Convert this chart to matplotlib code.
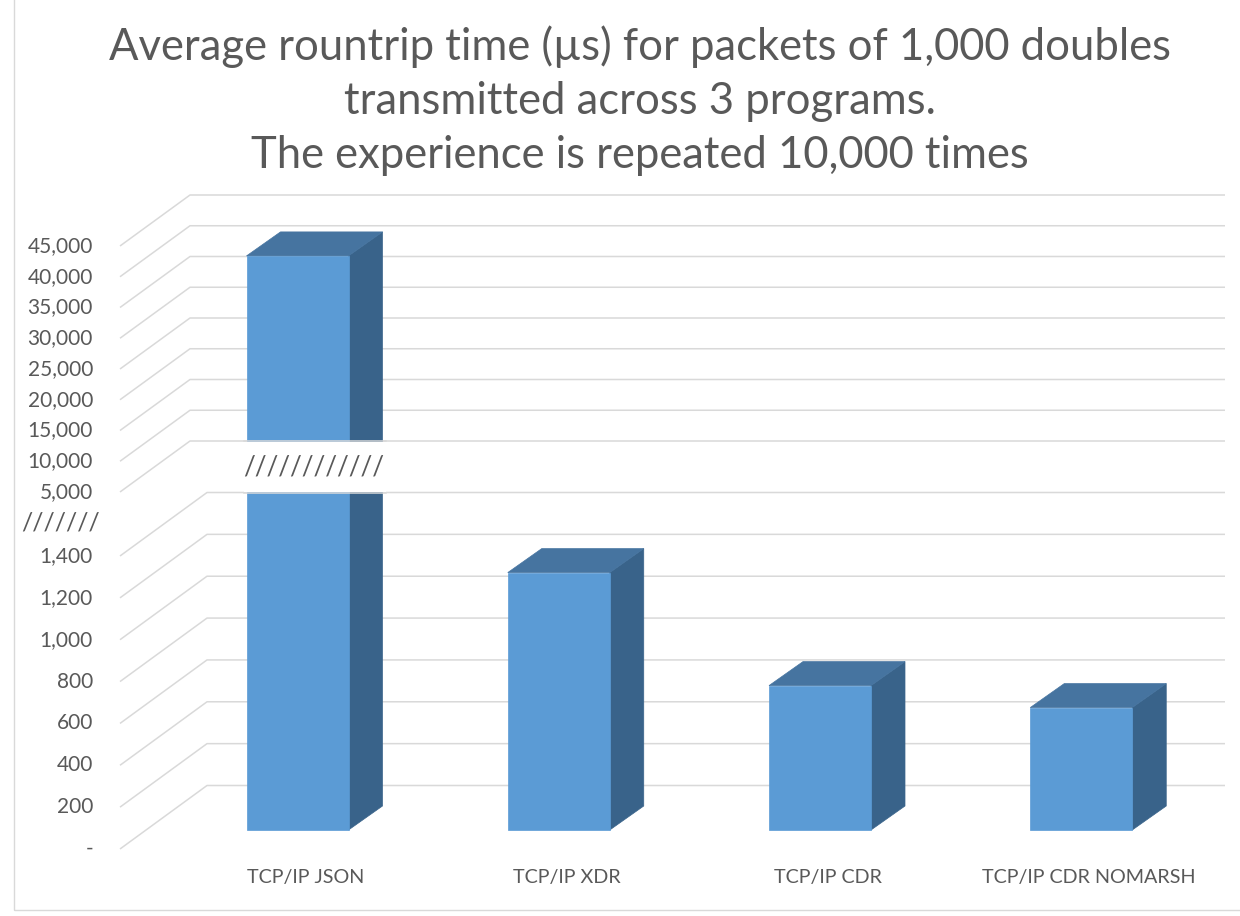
import numpy as np
import matplotlib
matplotlib.use("Agg")
import matplotlib.pyplot as plt
from matplotlib.patches import Polygon, Rectangle
from matplotlib.transforms import IdentityTransform, offset_copy

# ---------------- data ----------------
categories = ["TCP/IP JSON", "TCP/IP XDR", "TCP/IP CDR", "TCP/IP CDR NOMARSH"]
values = [40300, 1230, 690, 585]
lower_ticks = [0, 200, 400, 600, 800, 1000, 1200, 1400]
upper_ticks = [5000, 10000, 15000, 20000, 25000, 30000, 35000, 40000, 45000]
title_lines = ["Average rountrip time (\u00b5s) for packets of 1,000 doubles",
               "transmitted across 3 programs.",
               "The experience is repeated 10,000 times"]
axis_break_mark = "///////"
bar_break_mark = "////////////"

# ---------------- layout / style ----------------
W, H, DPI = 1240, 916, 100
FONT = ["Lato", "DejaVu Sans"]
TXT = "#595959"
GRID = "#D9D9D9"
FRONT, TOP, SIDE = "#5B9BD5", "#4674A0", "#39638A"

BASE_PX = 849                         # image row of value 0 on the front plane
BV = np.array([0.0, 1400.0, 5000.0, 45000.0])   # broken-axis breakpoints
BH = np.array([0.0, 293.0, 357.0, 603.0])       # px above base for them

X0, DX = 271.5, 261.25                # front-plane pixel x of category 0, spacing
BAR_W_PX = 102
UP_OFF = (70, -51)                    # depth offset of upper section walls (px)
LO_OFF = (87, -63.5)                  # depth offset of lower section walls (px)
BAR_SHIFT = (26, -19)                 # bar front face position in depth
BAR_DEPTH = (34, -24)                 # bar depth
GRID_L_PX, GRID_R_PX = 120, 1225


def _lin(v, xs, ys):
    v = np.asarray(v, dtype=float)
    out = np.interp(v, xs, ys)
    s0 = (ys[1] - ys[0]) / (xs[1] - xs[0])
    s1 = (ys[-1] - ys[-2]) / (xs[-1] - xs[-2])
    out = np.where(v < xs[0], ys[0] + (v - xs[0]) * s0, out)
    out = np.where(v > xs[-1], ys[-1] + (v - xs[-1]) * s1, out)
    return out


def fwd(v):
    return _lin(v, BV, BH)


def inv(h):
    return _lin(h, BH, BV)


fig = plt.figure(figsize=(W / DPI, H / DPI), dpi=DPI)
fig.patch.set_facecolor("white")
ax = fig.add_axes([0, 0, 1, 1])
ax.set_autoscale_on(False)
ax.set_yscale("function", functions=(fwd, inv))
ax.set_xlim(-X0 / DX, (W - X0) / DX)
ax.set_ylim(float(inv(-(H - BASE_PX))), float(inv(BASE_PX)))
ax.axis("off")

ID = IdentityTransform()
renderer = fig.canvas.get_renderer()


def disp(x, v, *offs):
    px, py = ax.transData.transform((x, v))
    for o in offs:
        px += o[0]
        py -= o[1]
    return (px, py)


def fit(t, target_w):
    t.set_fontsize(10)
    w = t.get_window_extent(renderer).width
    t.set_fontsize(10 * target_w / w)
    return t


x_grid_l = ax.transData.inverted().transform((GRID_L_PX, 0))[0]

# ---------------- gridlines (walls) ----------------
for ticks, off in ((upper_ticks, UP_OFF), (lower_ticks, LO_OFF)):
    for v in ticks:
        f = disp(x_grid_l, v)
        b = disp(x_grid_l, v, off)
        ax.plot([f[0], b[0], GRID_R_PX], [f[1], b[1], b[1]], color=GRID,
                lw=1.1, transform=ID, zorder=1, solid_capstyle="butt")

# ---------------- tick labels ----------------
lab_tr = offset_copy(ax.transData, fig=fig, x=-27, y=0, units="dots")
tick_fs = None
for v in upper_ticks + lower_ticks:
    s = "-" if v == 0 else f"{v:,}"
    t = ax.text(x_grid_l, v, s, transform=lab_tr, ha="right", va="center",
                color=TXT, family=FONT, zorder=5)
    if tick_fs is None:
        probe = ax.text(0, 0, "45,000", family=FONT, transform=ID)
        fit(probe, 65)
        tick_fs = probe.get_fontsize()
        probe.remove()
    t.set_fontsize(tick_fs)

# axis break mark in the gap between 1,400 and 5,000
gap_v = float(inv((BH[1] + BH[2]) / 2))
gx, gy = disp(x_grid_l, gap_v)
tb = ax.text(61, gy + 1, axis_break_mark, transform=ID, ha="center", va="center",
             color=TXT, family=FONT, zorder=5)
fit(tb, 78)

# ---------------- bars ----------------
bw = BAR_W_PX / DX
for i, v in enumerate(values):
    xl, xr = i - bw / 2, i + bw / 2
    front = [disp(xl, 0, BAR_SHIFT), disp(xr, 0, BAR_SHIFT),
             disp(xr, v, BAR_SHIFT), disp(xl, v, BAR_SHIFT)]
    top = [disp(xl, v, BAR_SHIFT), disp(xr, v, BAR_SHIFT),
           disp(xr, v, BAR_SHIFT, BAR_DEPTH), disp(xl, v, BAR_SHIFT, BAR_DEPTH)]
    side = [disp(xr, 0, BAR_SHIFT), disp(xr, v, BAR_SHIFT),
            disp(xr, v, BAR_SHIFT, BAR_DEPTH), disp(xr, 0, BAR_SHIFT, BAR_DEPTH)]
    for poly, col in ((side, SIDE), (top, TOP), (front, FRONT)):
        ax.add_patch(Polygon(poly, closed=True, facecolor=col, edgecolor=col,
                             lw=0.5, transform=ID, zorder=2))

    # broken bar: white band between the two wall sections
    if v > BV[2]:
        y_top = disp(x_grid_l, BV[2], UP_OFF)[1]
        y_bot = disp(x_grid_l, BV[1], LO_OFF)[1]
        x_a = disp(xl, 0, BAR_SHIFT)[0] - 3
        x_b = disp(xr, 0, BAR_SHIFT, BAR_DEPTH)[0] + 3
        ax.add_patch(Rectangle((x_a, y_bot + 0.8), x_b - x_a, y_top - y_bot - 1.6,
                               facecolor="white", edgecolor="none",
                               transform=ID, zorder=3))
        for yy in (y_top, y_bot):
            ax.plot([x_a, x_b], [yy, yy], color=GRID, lw=1.1, transform=ID,
                    zorder=3.5)
        bt = ax.text((x_a + x_b) / 2 - 1, (y_top + y_bot) / 2, bar_break_mark,
                     transform=ID, ha="center", va="center", color=TXT,
                     family=FONT, zorder=5)
        fit(bt, 141)

# ---------------- category labels ----------------
cat_tr = offset_copy(ax.transData, fig=fig, x=BAR_SHIFT[0] + 8, y=-28, units="dots")
cat_fs = None
for i, c in enumerate(categories):
    t = ax.text(i, 0, c, transform=cat_tr, ha="center", va="center",
                color=TXT, family=FONT, zorder=5)
    if cat_fs is None:
        fit(t, 117)
        cat_fs = t.get_fontsize()
    t.set_fontsize(cat_fs)

# ---------------- title ----------------
title_fs = None
for k, line in enumerate(title_lines):
    t = fig.text(640 / W, 1 - (47 + 54 * k) / H, line, ha="center", va="center",
                 color=TXT, family=FONT)
    if title_fs is None:
        fit(t, 1065)
        title_fs = t.get_fontsize()
    t.set_fontsize(title_fs)

# ---------------- chart border ----------------
ax.add_patch(Rectangle((14, H - 910), W, H, fill=False, edgecolor=GRID, lw=1.0,
                       transform=ID, zorder=6))

fig.savefig("out.png", dpi=DPI, facecolor="white")
